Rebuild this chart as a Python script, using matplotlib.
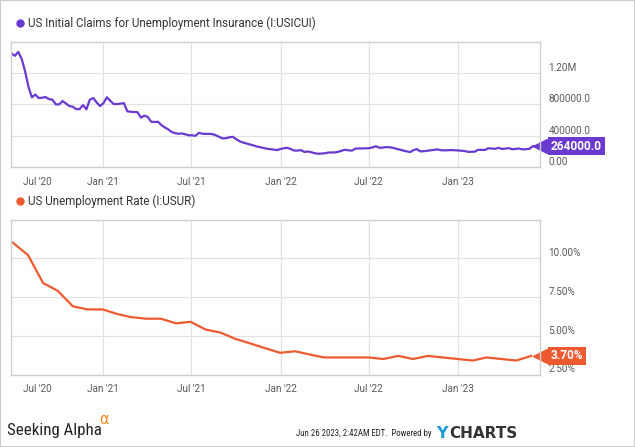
import matplotlib
matplotlib.use("Agg")
import matplotlib.pyplot as plt
import matplotlib.transforms as mtransforms
from matplotlib.lines import Line2D
from matplotlib.patches import Rectangle
import pandas as pd

# Weekly initial claims, Jun 27 2020 .. Jun 17 2023 (thousands)
claims_start = "2020-06-27"
claims_k = [
    1450, 1420, 1470, 1380, 1220, 1020, 890, 925, 880, 885, 893, 867, 860, 800,
    800, 842, 810, 778, 770, 738, 740, 790, 736, 860, 880, 825, 778, 815, 890,
    845, 804, 804, 810, 815, 711, 705, 702, 700, 631, 656, 639, 578, 575, 578,
    535, 505, 480, 448, 432, 425, 428, 418, 405, 405, 398, 436, 425, 423, 423,
    420, 405, 385, 364, 368, 380, 385, 355, 328, 312, 300, 288, 276, 262, 252,
    243, 233, 228, 222, 216, 230, 240, 245, 229, 210, 210, 215, 192, 198, 188,
    176, 169, 172, 175, 184, 186, 186, 195, 210, 220, 212, 210, 235, 237, 237,
    238, 241, 250, 265, 245, 248, 254, 252, 245, 232, 222, 210, 200, 190, 215,
    228, 200, 202, 207, 212, 218, 225, 215, 212, 214, 216, 214, 212, 208, 204,
    194, 194, 196, 220, 218, 218, 240, 235, 232, 245, 230, 235, 240, 227, 232,
    236, 225, 227, 232, 265, 268, 264,
]

# Monthly unemployment rate, Jun 2020 .. May 2023 (%), plotted at month end
urate_start = "2020-06-30"
urate = [
    11.0, 10.2, 8.4, 7.9, 6.9, 6.7, 6.7, 6.4, 6.2, 6.1, 6.1, 5.8, 5.9, 5.4,
    5.2, 4.8, 4.5, 4.2, 3.9, 4.0, 3.8, 3.6, 3.6, 3.6, 3.6, 3.5, 3.7, 3.5,
    3.7, 3.6, 3.5, 3.4, 3.6, 3.5, 3.4, 3.7,
]

claims_ticks = [0, 400000, 800000, 1200000]
claims_ticklabels = ["0.00", "400000.0", "800000.0", "1.20M"]
urate_ticks = [2.5, 5.0, 7.5, 10.0]
urate_ticklabels = ["2.50%", "5.00%", "7.50%", "10.00%"]
first_tick, first_ticklabel = "2020-07-01", "Jul '20"
date_ticks = ["2021-01-01", "2021-07-01", "2022-01-01", "2022-07-01", "2023-01-01"]
date_ticklabels = ["Jan '21", "Jul '21", "Jan '22", "Jul '22", "Jan '23"]

PURPLE = "#6a3ad0"
ORANGE = "#ee5a30"
GRID = "#e2e2e2"
FRAME = "#cfcfcf"
TXT = "#5a5a5a"

plt.rcParams["font.family"] = ["Roboto", "DejaVu Sans"]

W, H = 635, 447
fig = plt.figure(figsize=(W / 100, H / 100), dpi=100)


def fx(px):
    return px / W


def fy(py):
    return 1 - py / H


claims_dates = pd.date_range(claims_start, periods=len(claims_k), freq="7D")
claims_vals = [v * 1000 for v in claims_k]
urate_dates = pd.date_range(urate_start, periods=len(urate), freq=pd.offsets.MonthEnd())
xlim = (pd.Timestamp("2020-06-26"), pd.Timestamp("2023-06-18"))

ax1 = fig.add_axes([fx(11), fy(167), fx(529), (167 - 41.7) / H])
ax2 = fig.add_axes([fx(11), fy(374.5), fx(529), (374.5 - 219.5) / H])

ax1.plot(claims_dates, claims_vals, color=PURPLE, lw=1.6, solid_joinstyle="round")
ax2.plot(urate_dates, urate, color=ORANGE, lw=1.6, solid_joinstyle="round")

ax1.set_ylim(0, 1600000)
ax2.set_ylim(2.5, 12.5)

for ax, ticks, labels in [(ax1, claims_ticks, claims_ticklabels),
                          (ax2, urate_ticks, urate_ticklabels)]:
    ax.set_xlim(xlim)
    ax.set_xticks(pd.to_datetime(date_ticks))
    ax.set_xticklabels(date_ticklabels)
    ax.set_yticks(ticks)
    ax.set_yticklabels(labels)
    ax.yaxis.tick_right()
    ax.tick_params(axis="both", length=0, labelsize=7.2, labelcolor=TXT)
    ax.tick_params(axis="y", pad=6)
    ax.tick_params(axis="x", pad=7)
    for lbl in ax.get_yticklabels():
        lbl.set_va("bottom")
    # Jul '20 label sits just inside the left frame, nudged right like the original
    ax.annotate(first_ticklabel, xy=(pd.Timestamp(first_tick), 0),
                xycoords=("data", "axes fraction"), xytext=(17, -7),
                textcoords="offset points", ha="center", va="top",
                fontsize=7.2, color=TXT, annotation_clip=False)
    ax.grid(True, color=GRID, lw=0.9)
    ax.set_axisbelow(True)
    for s in ax.spines.values():
        s.set_color(FRAME)
        s.set_linewidth(1.0)


def badge(ax, value, text, color):
    trans = mtransforms.blended_transform_factory(ax.transAxes, ax.transData)
    ax.plot([1.0], [value], marker="<", ms=10, color=color, mec=color,
            transform=trans, clip_on=False)
    ax.annotate(text, xy=(1.0, value), xycoords=trans, xytext=(8, 0),
                textcoords="offset points", ha="left", va="center",
                fontsize=8.6, fontweight="bold", color="white",
                bbox=dict(boxstyle="square,pad=0.22", fc=color, ec="none"),
                annotation_clip=False)


badge(ax1, claims_vals[-1], "264000.0", PURPLE)
badge(ax2, urate[-1], "3.70%", ORANGE)

# panel titles with coloured dots
fig.add_artist(Line2D([fx(20)], [fy(23)], marker="o", ms=5, color=PURPLE,
                      transform=fig.transFigure))
fig.text(fx(28.5), fy(23), "US Initial Claims for Unemployment Insurance (I:USICUI)",
         fontsize=8.4, color="#333333", va="center")
fig.add_artist(Line2D([fx(20)], [fy(201)], marker="o", ms=5, color=ORANGE,
                      transform=fig.transFigure))
fig.text(fx(28.5), fy(201), "US Unemployment Rate (I:USUR)",
         fontsize=8.4, color="#333333", va="center")

# footer
narrow = ["Liberation Sans Narrow", "Roboto Condensed", "DejaVu Sans"]
fig.text(fx(7), fy(431), "Seeking Alpha", fontsize=12.2, color="#222222",
         va="center", family=narrow)
fig.text(fx(99), fy(419), "\u03b1", fontsize=10.5, color="#f38b1e", va="center",
         family=["DejaVu Sans"])
fig.text(fx(434), fy(434), "Jun 26 2023, 2:42AM EDT.  Powered by ", fontsize=6.3,
         color="#222222", va="center", ha="right", family=narrow)
fig.text(fx(436), fy(433), "Y", fontsize=11.5, fontweight="bold", color="#1a9ad6",
         va="center", family=["DejaVu Sans"])
fig.text(fx(449), fy(433), "CHARTS", fontsize=11, fontweight="bold", color="#333333",
         va="center", family=["DejaVu Sans"])

# outer frame
fig.add_artist(Rectangle((0, 0), 1, 1, transform=fig.transFigure, fill=False,
                         ec="#cccccc", lw=1.5))

fig.savefig("out.png", dpi=100)
